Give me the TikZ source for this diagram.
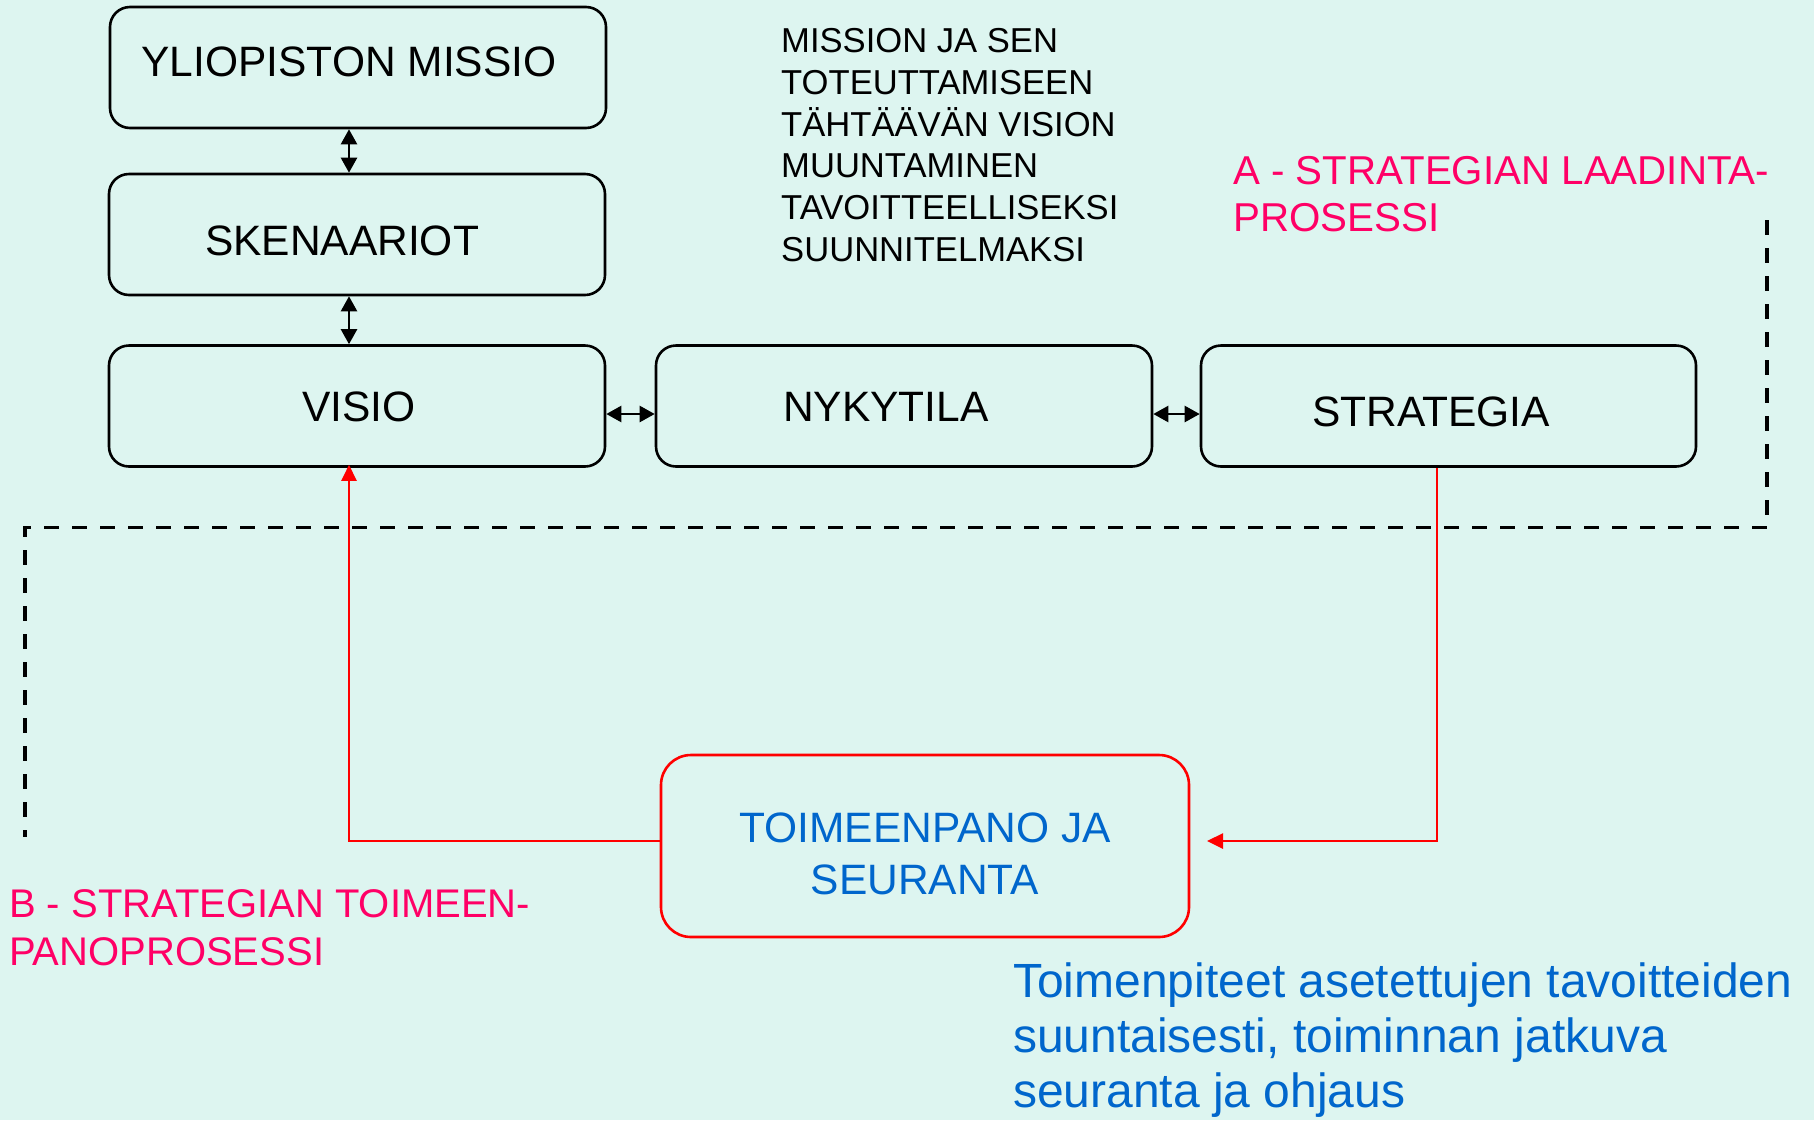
\documentclass[tikz,border=0pt]{standalone}
\usepackage{fontspec}
\setmainfont{Liberation Sans}
\usetikzlibrary{arrows.meta}
\definecolor{bgc}{RGB}{221,245,240}
\definecolor{pinkc}{RGB}{255,0,102}
\definecolor{bluec}{RGB}{0,102,204}
\definecolor{redc}{RGB}{255,0,0}
\begin{document}
\begin{tikzpicture}[x=1pt,y=-1pt,
  box/.style={draw=black, line width=2.6pt, rounded corners=20pt, inner sep=0pt, minimum width=496pt, minimum height=121pt},
  redbox/.style={draw=redc, line width=2.6pt, rounded corners=30pt, inner sep=0pt, minimum width=528pt, minimum height=182pt},
  lbl/.style={inner sep=0pt, font=\fontsize{42.5}{52}\selectfont, align=center},
  dbl/.style={line width=2.4pt, {Triangle[length=15pt,width=16pt]}-{Triangle[length=15pt,width=16pt]}},
  redl/.style={draw=redc, line width=2.6pt, -{Triangle[length=16pt,width=15pt]}},
  dashl/.style={line width=3.5pt, dash pattern=on 15pt off 13pt},
  note/.style={inner sep=0pt, align=left, anchor=north west}]
\fill[bgc] (0,0) rectangle (1814,1120);
\useasboundingbox (0,0) rectangle (1814,1120);

% boxes
\node[box] (missio) at (358,67.5) {};
\node[box] (sken) at (357,234.5) {};
\node[box] (visio) at (357,406) {};
\node[box] (nyky) at (904,406) {};
\node[box, minimum width=495pt] (strat) at (1448.5,406) {};
\node[redbox] (toim) at (925,846) {};

% box labels
\node[lbl] (tmissio) at (349,62) {YLIOPISTON MISSIO};
\node[lbl] (tsken) at (342,241) {SKENAARIOT};
\node[lbl] (tvisio) at (359,407) {VISIO};
\node[lbl] (tnyky) at (886,407) {NYKYTILA};
\node[lbl] (tstrat) at (1431,412) {STRATEGIA};
\node[lbl, text=bluec] (ttoim) at (925,854) {TOIMEENPANO JA\\SEURANTA};

% double arrows
\coordinate (ax) at (349,0);
\coordinate (ay) at (0,414);
\draw[dbl] (missio.south -| ax) -- (sken.north -| ax);
\draw[dbl] (sken.south -| ax) -- (visio.north -| ax);
\draw[dbl] (visio.east |- ay) -- (nyky.west |- ay);
\draw[dbl] (nyky.east |- ay) -- (strat.west |- ay);

% dashed process boundary
\coordinate (d1) at (1767,220);
\coordinate (d2) at (1767,527.5);
\coordinate (d3) at (25,527.5);
\coordinate (d4) at (25,837);
\draw[dashl] (d1) -- (d2) -- (d3) -- (d4);

% red feedback lines
\coordinate (r1) at (349,841);
\coordinate (r2) at (1437,841);
\coordinate (r3) at (1207,841);
\draw[redl] (toim.west |- r1) -- (r1) -- ([yshift=3pt]visio.south -| r1);
\draw[redl] (strat.south -| r2) -- (r2) -- (r3);

% texts
\node[note, font=\fontsize{34.6}{41.7}\selectfont] (mtext) at (781,28.3)
  {MISSION JA SEN\\TOTEUTTAMISEEN\\TÄHTÄÄVÄN VISION\\MUUNTAMINEN\\TAVOITTEELLISEKSI\\SUUNNITELMAKSI};
\node[note, text=pinkc, font=\fontsize{40.3}{47}\selectfont] (atext) at (1233,156)
  {A - STRATEGIAN LAADINTA-\\PROSESSI};
\node[note, text=pinkc, font=\fontsize{40}{48}\selectfont] (btext) at (9,889)
  {B - STRATEGIAN TOIMEEN-\\PANOPROSESSI};
\node[note, text=bluec, font=\fontsize{48}{55}\selectfont] (ctext) at (1013,962)
  {Toimenpiteet asetettujen tavoitteiden\\suuntaisesti, toiminnan jatkuva\\seuranta ja ohjaus};
\end{tikzpicture}
\end{document}
